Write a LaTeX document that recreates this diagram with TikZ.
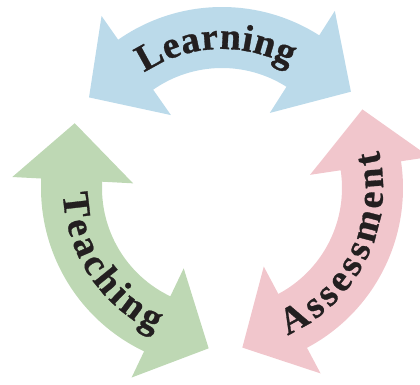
\documentclass[tikz,border=0pt]{standalone}
\usepackage{fontspec}
\setmainfont{Liberation Serif}[BoldFeatures={FakeBold=0.8}]
\usetikzlibrary{calc,decorations.text}
\definecolor{lblue}{RGB}{187,218,234}
\definecolor{lgreen}{RGB}{190,216,180}
\definecolor{lpink}{RGB}{241,198,204}
\definecolor{txt}{RGB}{35,31,32}
\newcommand\cyclarrow[3]{%
  \fill[#3] ($(C)+(#1:181pt)$) arc[start angle=#1, end angle=#2, radius=181pt]
    -- ($(C)+(#2:210pt)$) -- ($(C)+(#2+20.74:160.9pt)$) -- ($(C)+(#2:89pt)$)
    -- ($(C)+(#2:120pt)$) arc[start angle=#2, end angle=#1, radius=120pt]
    -- ($(C)+(#1:89pt)$) -- ($(C)+(#1-20.74:160.9pt)$) -- ($(C)+(#1:210pt)$) -- cycle;}
\tikzset{arclabel/.style={decorate, decoration={text along path, text align={fit to path},
  text color=txt, text={#1}}}}
\begin{document}
\fontsize{38}{38}\selectfont\bfseries
\begin{tikzpicture}
\useasboundingbox (0,0) rectangle (420pt,385pt);
\coordinate (C) at (222pt,197pt);
\cyclarrow{57.5}{125}{lblue}
\cyclarrow{177}{244.5}{lgreen}
\cyclarrow{298}{368.5}{lpink}
\path[arclabel=Learning] ($(C)+(124:139pt)$) arc[start angle=124, end angle=61, radius=139pt];
\path[arclabel=Teaching] ($(C)+(182:159pt)$) arc[start angle=182, end angle=245, radius=159pt];
\path[arclabel=Assessment] ($(C)+(294:161pt)$) arc[start angle=294, end angle=373.4, radius=161pt];
\end{tikzpicture}
\end{document}
